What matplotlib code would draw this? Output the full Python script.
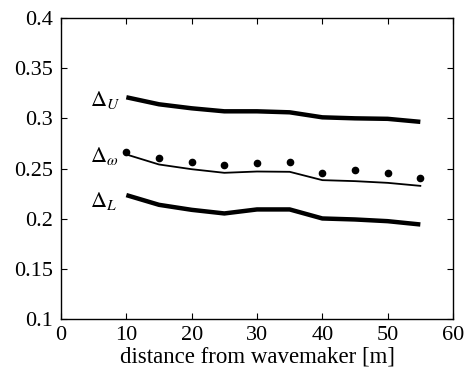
import matplotlib
matplotlib.use("Agg")
import matplotlib.pyplot as plt

plt.rcParams['font.family'] = ['Liberation Serif', 'DejaVu Serif']
plt.rcParams['mathtext.fontset'] = 'stix'

x = [10, 15, 20, 25, 30, 35, 40, 45, 50, 55]
upper = [0.321, 0.314, 0.310, 0.307, 0.307, 0.306, 0.301, 0.300, 0.2995, 0.2965]
middle = [0.264, 0.254, 0.2493, 0.2457, 0.247, 0.2467, 0.2384, 0.2374, 0.2357, 0.2327]
dots = [0.2666, 0.2606, 0.2563, 0.253, 0.255, 0.2566, 0.246, 0.2484, 0.246, 0.2407]
lower = [0.2235, 0.2138, 0.2088, 0.2052, 0.2092, 0.2092, 0.2002, 0.1992, 0.1975, 0.1942]

fig = plt.figure(figsize=(4.68, 3.70), dpi=100)
ax = fig.add_axes([61/468, 1 - 319/370, (453-61)/468, (319-18)/370])

ax.plot(x, upper, color='black', lw=3.2, solid_capstyle='butt')
ax.plot(x, middle, color='black', lw=1.3)
ax.plot(x, lower, color='black', lw=3.2, solid_capstyle='butt')
ax.plot(x, dots, 'o', color='black', ms=4.5, linestyle='none')

ax.text(4.5, 0.318, r'$\Delta_U$', fontsize=16, va='center', ha='left')
ax.text(4.5, 0.262, r'$\Delta_\omega$', fontsize=16, va='center', ha='left')
ax.text(4.5, 0.218, r'$\Delta_L$', fontsize=16, va='center', ha='left')

ax.set_xlim(0, 60)
ax.set_ylim(0.1, 0.4)
ax.set_xticks([0, 10, 20, 30, 40, 50, 60])
ax.set_yticks([0.1, 0.15, 0.2, 0.25, 0.3, 0.35, 0.4])
ax.set_yticklabels(['0.1', '0.15', '0.2', '0.25', '0.3', '0.35', '0.4'])
ax.tick_params(direction='in', top=True, right=True, labelsize=16, length=4)
ax.tick_params(axis='x', pad=5)
ax.tick_params(axis='y', pad=6)
ax.set_xlabel('distance from wavemaker [m]', fontsize=16.5, labelpad=1)
for s in ax.spines.values():
    s.set_linewidth(1.0)

fig.savefig('out.png', dpi=100)
